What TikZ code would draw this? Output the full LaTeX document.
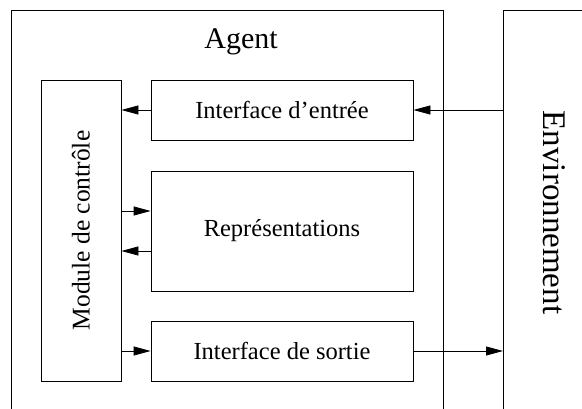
\documentclass[tikz,border=0pt]{standalone}
\usepackage{fontspec}
\setmainfont{Liberation Serif}
\usetikzlibrary{arrows.meta}
\begin{document}
\begin{tikzpicture}[x=1pt,y=-1pt,
  frame/.style={draw=black,line width=0.8pt},
  boxnode/.style={draw=black,line width=0.8pt,rectangle,inner sep=0pt,
    font=\fontsize{24.5}{28}\selectfont},
  arr/.style={draw=black,line width=0.8pt,-{Triangle[length=17pt,width=9pt]}}]
\useasboundingbox (0,0) rectangle (582,409);
% Agent frame (open at bottom)
\draw[frame] (11,412) -- (11,10) -- (443,10) -- (443,412);
\node[font=\fontsize{30}{34}\selectfont,anchor=base] (agent) at (241,49) {Agent};
% Environment frame (open at bottom and right)
\coordinate (envL) at (503,10);
\draw[frame] (503,412) -- (envL) -- (585,10);
\node[font=\fontsize{33}{37}\selectfont,anchor=base,rotate=-90] (env) at (543,212.5) {Environnement};
% inner boxes
\node[boxnode,minimum width=80pt,minimum height=301pt] (module) at (81,230.5) {};
\node[font=\fontsize{25.5}{29}\selectfont,rotate=90] (modlabel) at (module.center) {Module de contrôle};
\node[boxnode,minimum width=262pt,minimum height=60pt] (entree) at (282,110) {Interface d’entrée};
\node[boxnode,minimum width=262pt,minimum height=120pt] (repr) at (282,231) {Représentations};
\node[boxnode,minimum width=262pt,minimum height=60pt] (sortie) at (282,351) {Interface de sortie};
% connectors
\draw[arr] (entree.east -| envL) -- (entree.east);
\draw[arr] (entree.west) -- (entree.west -| module.east);
\draw[arr] ([yshift=20pt]repr.west -| module.east) -- ([yshift=20pt]repr.west);
\draw[arr] ([yshift=-20pt]repr.west) -- ([yshift=-20pt]repr.west -| module.east);
\draw[arr] (sortie.west -| module.east) -- (sortie.west);
\draw[arr] (sortie.east) -- (sortie.east -| envL);
\end{tikzpicture}
\end{document}
